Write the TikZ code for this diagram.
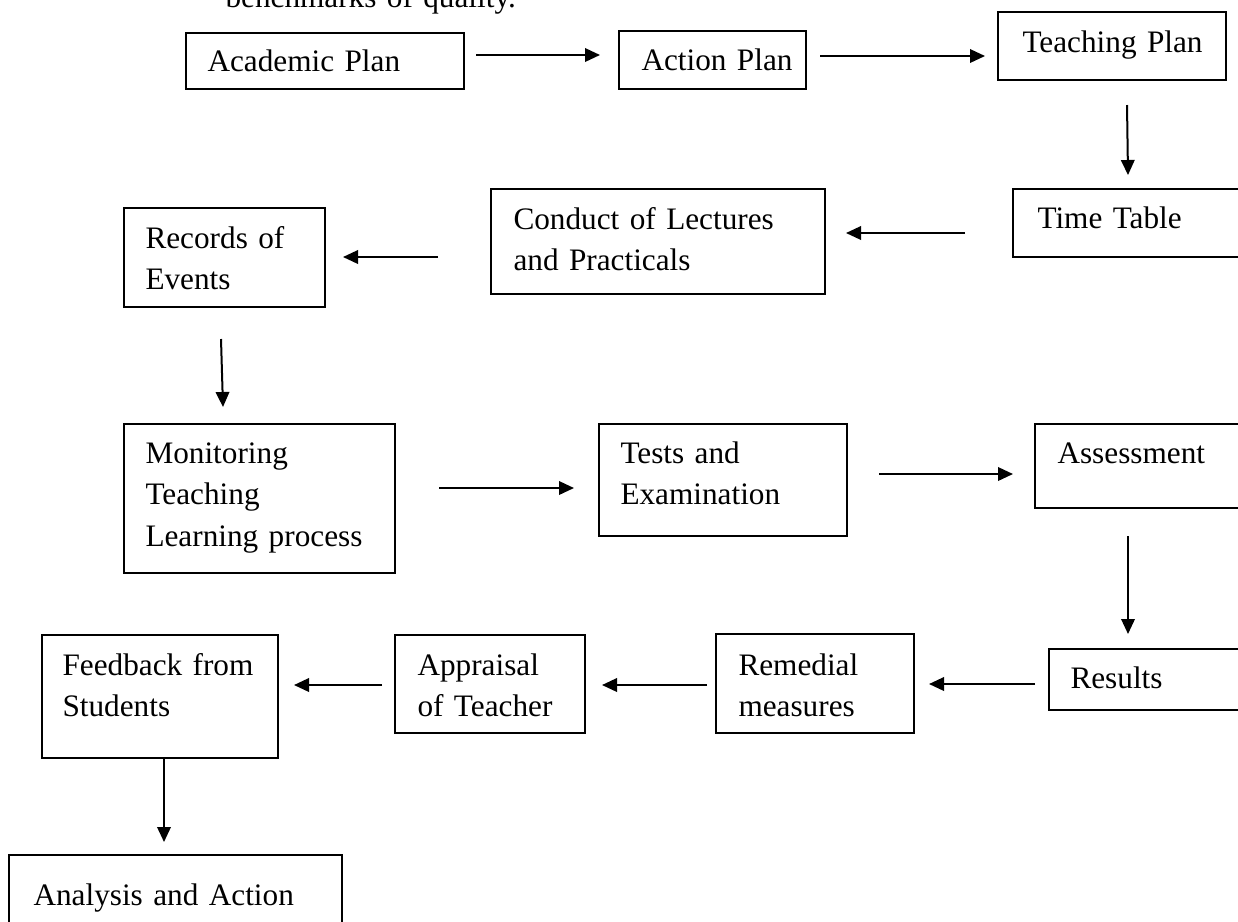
\documentclass[tikz,border=0pt]{standalone}
\usepackage{fontspec}
\setmainfont{Liberation Serif}
\usetikzlibrary{arrows.meta,fit}
\begin{document}
\begin{tikzpicture}[x=0.4pt,y=-0.4pt,
  box/.style={draw, line width=0.65pt, inner sep=0pt, rectangle},
  txt/.style={inner sep=0pt, anchor=base west, align=left, text width=150pt,
    font=\fontsize{12.5pt}{16.6pt}\selectfont},
  arr/.style={line width=0.8pt, -{Triangle[length=6pt,width=5.4pt]}}]
\useasboundingbox (0,0) rectangle (1238,921);
\clip (0,0) rectangle (1238,921);

\node[txt] (head) at (225,7) {benchmarks of quality.};

% boxes
\node[box, fit={(186,33)(464,89)}] (acad) {};
\node[txt] (acadT) at (207,71) {Academic Plan};
\node[box, fit={(619,31)(806,89)}] (action) {};
\node[txt] (actionT) at (641,70) {Action Plan};
\node[box, fit={(998,12)(1226,80)}] (teach) {};
\node[txt] (teachT) at (1022,52) {Teaching Plan};
\node[box, fit={(1013,189)(1250,257)}] (time) {};
\node[txt] (timeT) at (1037,228) {Time Table};
\node[box, fit={(491,189)(825,294)}] (conduct) {};
\node[txt] (conductT) at (513,229) {Conduct of Lectures\\and Practicals};
\node[box, fit={(124,208)(325,307)}] (records) {};
\node[txt] (recordsT) at (145,248) {Records of\\Events};
\node[box, fit={(124,424)(395,573)}] (monitor) {};
\node[txt] (monitorT) at (145,463) {Monitoring\\Teaching\\Learning process};
\node[box, fit={(599,424)(847,536)}] (tests) {};
\node[txt] (testsT) at (620,463) {Tests and\\Examination};
\node[box, fit={(1035,424)(1250,508)}] (assess) {};
\node[txt] (assessT) at (1057,463) {Assessment};
\node[box, fit={(1049,649)(1250,710)}] (results) {};
\node[txt] (resultsT) at (1070,688) {Results};
\node[box, fit={(716,634)(914,733)}] (remedial) {};
\node[txt] (remedialT) at (738,675) {Remedial\\measures};
\node[box, fit={(395,635)(585,733)}] (apprais) {};
\node[txt] (appraisT) at (417,675) {Appraisal\\of Teacher};
\node[box, fit={(42,635)(278,758)}] (feedback) {};
\node[txt] (feedbackT) at (62,675) {Feedback from\\Students};
\node[box, fit={(9,855)(342,940)}] (analysis) {};
\node[txt] (analysisT) at (33,905) {Analysis and Action};

% arrow end points
\coordinate (a1s) at (476,55);   \coordinate (a1e) at (600,55);
\coordinate (a2s) at (820,56);   \coordinate (a2e) at (985,56);
\coordinate (a3s) at (1127,105); \coordinate (a3e) at (1128,175);
\coordinate (a4s) at (965,233);  \coordinate (a4e) at (846,233);
\coordinate (a5s) at (438,257);  \coordinate (a5e) at (343,257);
\coordinate (a6s) at (221,339);  \coordinate (a6e) at (223,407);
\coordinate (a7s) at (439,488);  \coordinate (a7e) at (574,488);
\coordinate (a8s) at (879,474);  \coordinate (a8e) at (1013,474);
\coordinate (a9s) at (1128,536); \coordinate (a9e) at (1128,634);
\coordinate (a10s) at (1035,684); \coordinate (a10e) at (929,684);
\coordinate (a11s) at (707,685); \coordinate (a11e) at (602,685);
\coordinate (a12s) at (382,685); \coordinate (a12e) at (294,685);

\draw[arr] (a1s) -- (a1e);
\draw[arr] (a2s) -- (a2e);
\draw[arr] (a3s) -- (a3e);
\draw[arr] (a4s) -- (a4e);
\draw[arr] (a5s) -- (a5e);
\draw[arr] (a6s) -- (a6e);
\draw[arr] (a7s) -- (a7e);
\draw[arr] (a8s) -- (a8e);
\draw[arr] (a9s) -- (a9e);
\draw[arr] (a10s) -- (a10e);
\draw[arr] (a11s) -- (a11e);
\draw[arr] (a12s) -- (a12e);
\draw[arr] (feedback.south -| 164,0) -- (164,842);
\end{tikzpicture}
\end{document}
